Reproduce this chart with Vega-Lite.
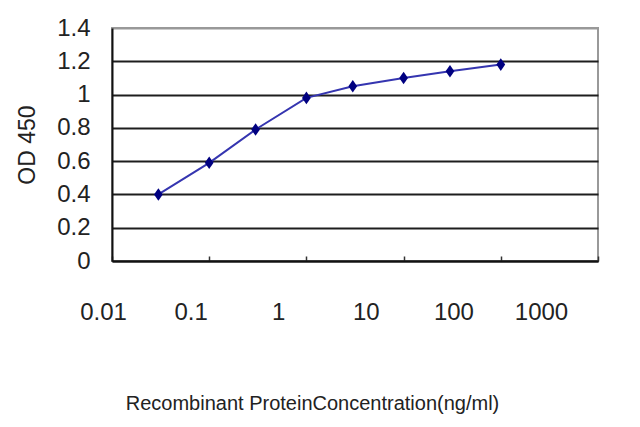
{
  "$schema": "https://vega.github.io/schema/vega-lite/v6.json",
  "autosize": "none",
  "width": 486,
  "height": 233,
  "padding": {"left": 112, "top": 28, "right": 42, "bottom": 166},
  "background": "white",
  "config": {
    "view": {"stroke": "#999999", "strokeWidth": 2},
    "axis": {"labelFont": "Liberation Sans", "titleFont": "Liberation Sans", "labelColor": "#222222", "titleColor": "#222222", "titleFontWeight": "normal"}
  },
  "data": {"values": [
    {"conc": 0.03, "od": 0.40},
    {"conc": 0.1, "od": 0.59},
    {"conc": 0.3, "od": 0.79},
    {"conc": 1, "od": 0.98},
    {"conc": 3, "od": 1.05},
    {"conc": 10, "od": 1.10},
    {"conc": 30, "od": 1.14},
    {"conc": 100, "od": 1.18}
  ]},
  "encoding": {
    "x": {
      "field": "conc", "type": "quantitative",
      "scale": {"type": "log", "domain": [0.01, 1000], "nice": false},
      "axis": {
        "title": "Recombinant ProteinConcentration(ng/ml)",
        "titleFontSize": 20,
        "titleX": 200, "titleY": 142, "titleBaseline": "middle",
        "values": [0.01, 0.1, 1, 10, 100, 1000],
        "format": "~g",
        "labelFontSize": 24,
        "labelPadding": 44,
        "labelFlush": false,
        "labelOffset": {"expr": "-9 - 9.6*(log(datum.value)/LN10 + 2)"},
        "tickSize": -5, "tickColor": "#333333", "tickWidth": 1.5,
        "domainColor": "#111111", "domainWidth": 2,
        "grid": false
      }
    },
    "y": {
      "field": "od", "type": "quantitative",
      "scale": {"domain": [0, 1.4], "nice": false},
      "axis": {
        "title": "OD 450",
        "titleFontSize": 23,
        "titlePadding": 17,
        "values": [0, 0.2, 0.4, 0.6, 0.8, 1, 1.2, 1.4],
        "format": "~g",
        "labelFontSize": 24,
        "labelPadding": 22,
        "tickSize": 0,
        "domainColor": "#111111", "domainWidth": 2,
        "grid": true,
        "gridColor": {"condition": {"test": "datum.value >= 1.4", "value": "#999999"}, "value": "#1e1e1e"},
        "gridWidth": 2
      }
    }
  },
  "layer": [
    {"mark": {"type": "line", "color": "#3535b0", "strokeWidth": 2}},
    {"mark": {"type": "point", "shape": "M0,-1.15L0.8,0L0,1.15L-0.8,0Z", "filled": true, "color": "#000080", "size": 120, "opacity": 1}}
  ]
}
